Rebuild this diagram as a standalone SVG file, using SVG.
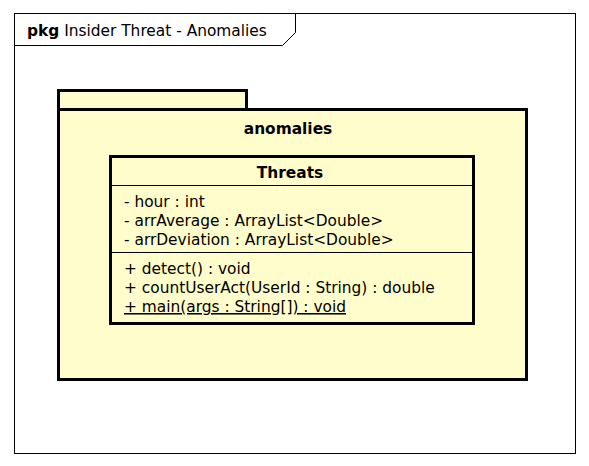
<svg xmlns="http://www.w3.org/2000/svg" width="589" height="466" viewBox="0 0 589 466">
<style>
text{font-family:"DejaVu Sans","Liberation Sans",sans-serif;font-size:15.4px;fill:#000}
.b{font-weight:bold}
.fill{fill:#fffdcb;stroke:#000;stroke-width:3}
.thin{fill:none;stroke:#000;stroke-width:1}
</style>
<rect width="589" height="466" fill="#fff"/>
<g id="frame">
<rect x="14.5" y="13.5" width="561" height="440" class="thin"/>
<path d="M14.5 45.5 H282.5 L295.5 32.5 V13.5" class="thin"/>
<text x="27" y="36"><tspan class="b">pkg</tspan> Insider Threat - Anomalies</text>
</g>
<g id="anomalies">
<rect x="58.5" y="90.5" width="188" height="19" class="fill"/>
<rect x="58.5" y="109.5" width="468" height="270" class="fill"/>
<text x="288" y="134" class="b" text-anchor="middle">anomalies</text>
</g>
<g id="Threats">
<rect x="110.5" y="156.5" width="363" height="167" class="fill"/>
<line x1="110" y1="185.5" x2="474" y2="185.5" stroke="#000" stroke-width="1"/>
<line x1="110" y1="252.5" x2="474" y2="252.5" stroke="#000" stroke-width="1"/>
<text x="290" y="178" class="b" text-anchor="middle">Threats</text>
<text x="124" y="207">- hour : int</text>
<text x="124" y="226">- arrAverage : ArrayList&lt;Double&gt;</text>
<text x="124" y="245">- arrDeviation : ArrayList&lt;Double&gt;</text>
<text x="124" y="274">+ detect() : void</text>
<text x="124" y="293">+ countUserAct(UserId : String) : double</text>
<text x="124" y="312" text-decoration="underline">+ main(args : String[]) : void</text>
</g>
<g id="connectors"></g>
</svg>
